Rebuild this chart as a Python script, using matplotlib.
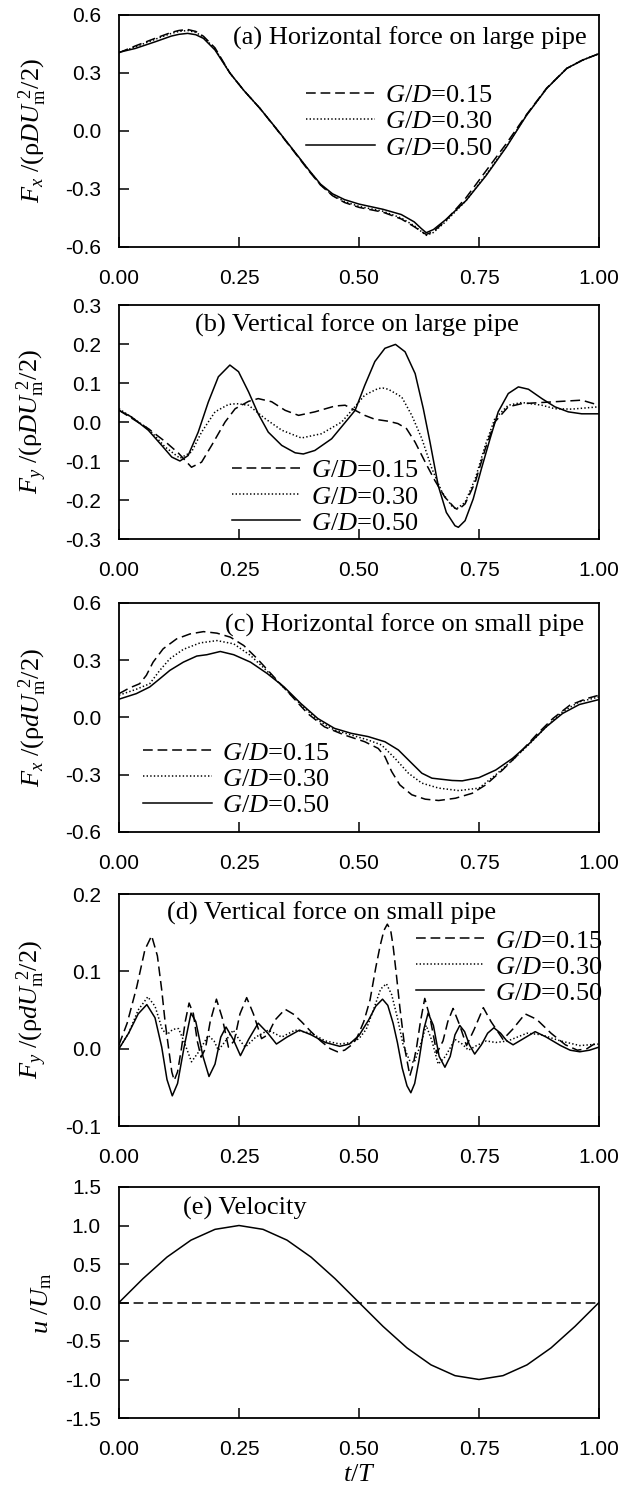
import matplotlib
matplotlib.use("Agg")
import matplotlib.pyplot as plt

plt.rcParams['font.family'] = ['Liberation Sans', 'DejaVu Sans']
plt.rcParams['axes.unicode_minus'] = False
plt.rcParams['mathtext.fontset'] = 'custom'
plt.rcParams['mathtext.rm'] = 'Liberation Serif'
plt.rcParams['mathtext.it'] = 'Liberation Serif:italic'
plt.rcParams['mathtext.bf'] = 'Liberation Serif:bold'
plt.rcParams['lines.scale_dashes'] = False

# ---------------- data ----------------
labels = ['$G/D$=0.15', '$G/D$=0.30', '$G/D$=0.50']

# (a) Horizontal force on large pipe
a_t = [0, 0.034, 0.076, 0.109, 0.125, 0.143, 0.16, 0.176, 0.2, 0.231, 0.26, 0.294, 0.328, 0.361, 0.395, 0.42, 0.445, 0.47, 0.5, 0.55, 0.588, 0.615, 0.63, 0.64, 0.655, 0.68, 0.723, 0.765, 0.807, 0.849, 0.891, 0.933, 0.966, 1.0]
a_v15 = [0.405, 0.44, 0.48, 0.51, 0.52, 0.525, 0.515, 0.49, 0.43, 0.30, 0.21, 0.116, 0.01, -0.095, -0.205, -0.28, -0.335, -0.37, -0.395, -0.42, -0.455, -0.495, -0.52, -0.535, -0.52, -0.465, -0.345, -0.205, -0.065, 0.085, 0.222, 0.324, 0.367, 0.40]
a_v30 = [0.405, 0.435, 0.475, 0.505, 0.515, 0.52, 0.51, 0.485, 0.425, 0.30, 0.21, 0.116, 0.011, -0.093, -0.202, -0.278, -0.332, -0.365, -0.39, -0.415, -0.45, -0.49, -0.52, -0.54, -0.525, -0.47, -0.36, -0.225, -0.08, 0.082, 0.22, 0.324, 0.367, 0.40]
a_v50 = [0.407, 0.427, 0.462, 0.491, 0.50, 0.505, 0.498, 0.479, 0.419, 0.30, 0.21, 0.116, 0.012, -0.092, -0.20, -0.275, -0.325, -0.355, -0.378, -0.405, -0.432, -0.47, -0.505, -0.526, -0.51, -0.46, -0.36, -0.23, -0.083, 0.081, 0.22, 0.324, 0.367, 0.40]

# (b) Vertical force on large pipe
b_t15 = [0, 0.061, 0.096, 0.124, 0.151, 0.172, 0.193, 0.221, 0.242, 0.27, 0.29, 0.318, 0.346, 0.374, 0.408, 0.45, 0.471, 0.492, 0.512, 0.533, 0.561, 0.581, 0.599, 0.617, 0.638, 0.658, 0.679, 0.7, 0.707, 0.721, 0.742, 0.763, 0.783, 0.811, 0.839, 0.881, 0.922, 0.964, 1.0]
b_v15 = [0.03, -0.017, -0.05, -0.08, -0.116, -0.103, -0.06, 0.0, 0.034, 0.053, 0.06, 0.052, 0.03, 0.017, 0.026, 0.041, 0.043, 0.03, 0.017, 0.007, 0.002, -0.004, -0.017, -0.052, -0.103, -0.15, -0.193, -0.221, -0.225, -0.21, -0.155, -0.069, 0.0, 0.039, 0.047, 0.05, 0.053, 0.056, 0.043]
b_t30 = [0, 0.061, 0.096, 0.127, 0.151, 0.172, 0.2, 0.228, 0.245, 0.27, 0.304, 0.339, 0.38, 0.422, 0.464, 0.492, 0.512, 0.54, 0.55, 0.561, 0.589, 0.61, 0.631, 0.652, 0.673, 0.693, 0.703, 0.721, 0.742, 0.763, 0.783, 0.811, 0.839, 0.881, 0.908, 0.943, 1.0]
b_v30 = [0.034, -0.017, -0.064, -0.093, -0.077, -0.026, 0.026, 0.045, 0.047, 0.043, 0.009, -0.021, -0.041, -0.03, 0.0, 0.04, 0.069, 0.086, 0.087, 0.084, 0.064, 0.017, -0.043, -0.12, -0.18, -0.215, -0.223, -0.206, -0.146, -0.06, 0.009, 0.043, 0.05, 0.043, 0.034, 0.033, 0.039]
b_t50 = [0, 0.026, 0.061, 0.089, 0.11, 0.127, 0.144, 0.165, 0.186, 0.207, 0.231, 0.249, 0.27, 0.29, 0.311, 0.339, 0.367, 0.384, 0.408, 0.443, 0.478, 0.492, 0.512, 0.533, 0.554, 0.576, 0.596, 0.617, 0.634, 0.648, 0.665, 0.682, 0.7, 0.707, 0.721, 0.738, 0.755, 0.773, 0.79, 0.811, 0.832, 0.853, 0.881, 0.908, 0.936, 0.964, 1.0]
b_v50 = [0.030, 0.013, -0.021, -0.06, -0.09, -0.10, -0.086, -0.026, 0.051, 0.116, 0.146, 0.129, 0.077, 0.021, -0.026, -0.06, -0.079, -0.082, -0.073, -0.043, 0.009, 0.03, 0.094, 0.155, 0.189, 0.199, 0.18, 0.124, 0.034, -0.052, -0.163, -0.232, -0.266, -0.27, -0.253, -0.197, -0.12, -0.043, 0.026, 0.073, 0.09, 0.084, 0.06, 0.039, 0.026, 0.021, 0.021]

# (c) Horizontal force on small pipe
c_t15 = [0, 0.022, 0.043, 0.057, 0.071, 0.092, 0.12, 0.148, 0.176, 0.204, 0.232, 0.26, 0.288, 0.323, 0.358, 0.393, 0.428, 0.47, 0.512, 0.54, 0.554, 0.568, 0.585, 0.61, 0.638, 0.666, 0.701, 0.736, 0.764, 0.799, 0.834, 0.869, 0.904, 0.939, 0.974, 1.0]
c_v15 = [0.125, 0.155, 0.177, 0.221, 0.29, 0.36, 0.412, 0.438, 0.45, 0.442, 0.421, 0.377, 0.308, 0.212, 0.117, 0.021, -0.049, -0.092, -0.127, -0.162, -0.205, -0.283, -0.353, -0.405, -0.428, -0.435, -0.423, -0.397, -0.353, -0.275, -0.188, -0.092, -0.005, 0.064, 0.099, 0.117]
c_t30 = [0, 0.036, 0.064, 0.085, 0.106, 0.134, 0.169, 0.204, 0.239, 0.274, 0.309, 0.344, 0.379, 0.414, 0.449, 0.484, 0.519, 0.547, 0.575, 0.603, 0.631, 0.666, 0.708, 0.75, 0.785, 0.82, 0.855, 0.89, 0.924, 0.959, 1.0]
c_v30 = [0.117, 0.148, 0.177, 0.247, 0.308, 0.357, 0.391, 0.403, 0.386, 0.325, 0.242, 0.155, 0.068, -0.014, -0.066, -0.092, -0.118, -0.144, -0.214, -0.292, -0.344, -0.37, -0.383, -0.37, -0.30, -0.223, -0.139, -0.049, 0.03, 0.082, 0.108]
c_t50 = [0, 0.036, 0.064, 0.085, 0.106, 0.134, 0.162, 0.183, 0.211, 0.239, 0.274, 0.309, 0.344, 0.379, 0.414, 0.449, 0.484, 0.519, 0.554, 0.582, 0.61, 0.631, 0.652, 0.694, 0.715, 0.75, 0.785, 0.82, 0.855, 0.89, 0.924, 0.959, 1.0]
c_v50 = [0.096, 0.125, 0.16, 0.203, 0.247, 0.29, 0.322, 0.329, 0.346, 0.329, 0.29, 0.23, 0.16, 0.073, -0.005, -0.057, -0.083, -0.10, -0.127, -0.17, -0.24, -0.292, -0.318, -0.33, -0.332, -0.315, -0.275, -0.214, -0.136, -0.049, 0.021, 0.068, 0.094]

# (d) Vertical force on small pipe
d_t15 = [0, 0.017, 0.037, 0.054, 0.068, 0.08, 0.089, 0.096, 0.103, 0.11, 0.115, 0.122, 0.13, 0.138, 0.146, 0.155, 0.163, 0.171, 0.18, 0.19, 0.203, 0.215, 0.228, 0.24, 0.252, 0.266, 0.28, 0.297, 0.31, 0.325, 0.346, 0.365, 0.38, 0.40, 0.42, 0.44, 0.455, 0.47, 0.485, 0.495, 0.51, 0.523, 0.535, 0.544, 0.552, 0.559, 0.566, 0.571, 0.578, 0.585, 0.596, 0.606, 0.613, 0.62, 0.628, 0.637, 0.648, 0.662, 0.675, 0.685, 0.696, 0.71, 0.724, 0.74, 0.759, 0.775, 0.80, 0.82, 0.846, 0.87, 0.9, 0.93, 0.955, 0.975, 1.0]
d_v15 = [0.005, 0.033, 0.08, 0.128, 0.146, 0.12, 0.076, 0.035, 0.002, -0.03, -0.041, -0.03, 0.0, 0.035, 0.059, 0.045, 0.01, -0.011, 0.0, 0.035, 0.064, 0.04, 0.002, 0.01, 0.045, 0.066, 0.045, 0.013, 0.018, 0.037, 0.051, 0.044, 0.035, 0.022, 0.01, 0.0, -0.004, -0.002, 0.005, 0.013, 0.035, 0.063, 0.105, 0.133, 0.153, 0.161, 0.153, 0.133, 0.095, 0.054, -0.002, -0.035, -0.02, 0.002, 0.035, 0.065, 0.04, -0.006, 0.01, 0.035, 0.052, 0.03, 0.004, 0.025, 0.053, 0.035, 0.012, 0.025, 0.045, 0.038, 0.02, 0.005, -0.002, 0.0, 0.01]
d_t30 = [0, 0.02, 0.04, 0.06, 0.075, 0.09, 0.1, 0.112, 0.124, 0.135, 0.151, 0.165, 0.186, 0.198, 0.207, 0.222, 0.238, 0.25, 0.263, 0.285, 0.311, 0.339, 0.367, 0.40, 0.43, 0.46, 0.485, 0.5, 0.515, 0.53, 0.545, 0.557, 0.568, 0.58, 0.592, 0.605, 0.615, 0.628, 0.64, 0.652, 0.665, 0.68, 0.7, 0.715, 0.728, 0.745, 0.765, 0.785, 0.81, 0.85, 0.88, 0.92, 0.96, 1.0]
d_v30 = [0.0, 0.02, 0.05, 0.067, 0.055, 0.025, 0.018, 0.025, 0.026, 0.01, -0.017, -0.005, 0.017, 0.01, -0.002, 0.01, 0.024, 0.012, 0.002, 0.015, 0.024, 0.015, 0.024, 0.02, 0.01, 0.006, 0.008, 0.013, 0.025, 0.05, 0.077, 0.084, 0.07, 0.04, 0.005, -0.015, -0.018, 0.005, 0.03, 0.01, -0.02, -0.01, 0.012, 0.006, -0.002, 0.004, 0.01, 0.008, 0.01, 0.02, 0.018, 0.01, 0.004, 0.006]
d_t50 = [0, 0.02, 0.04, 0.058, 0.075, 0.089, 0.10, 0.111, 0.122, 0.135, 0.15, 0.16, 0.175, 0.1875, 0.2, 0.212, 0.223, 0.238, 0.253, 0.27, 0.29, 0.31, 0.328, 0.35, 0.376, 0.40, 0.43, 0.46, 0.48, 0.50, 0.52, 0.535, 0.549, 0.56, 0.571, 0.58, 0.59, 0.60, 0.608, 0.616, 0.625, 0.635, 0.644, 0.655, 0.667, 0.679, 0.69, 0.70, 0.71, 0.72, 0.73, 0.741, 0.755, 0.768, 0.781, 0.795, 0.808, 0.821, 0.84, 0.867, 0.89, 0.92, 0.94, 0.96, 0.98, 1.0]
d_v50 = [0.0, 0.02, 0.045, 0.057, 0.04, 0.002, -0.04, -0.061, -0.045, 0.0, 0.046, 0.035, -0.01, -0.036, -0.02, 0.015, 0.028, 0.012, -0.009, 0.012, 0.033, 0.02, 0.006, 0.015, 0.024, 0.018, 0.008, 0.003, 0.006, 0.017, 0.037, 0.055, 0.064, 0.056, 0.033, 0.008, -0.025, -0.048, -0.057, -0.045, -0.015, 0.025, 0.046, 0.03, -0.01, -0.024, -0.01, 0.018, 0.03, 0.022, 0.005, -0.007, 0.005, 0.02, 0.027, 0.02, 0.01, 0.005, 0.012, 0.022, 0.015, 0.004, -0.002, -0.004, -0.002, 0.002]

# (e) Velocity
e_t = [0, 0.05, 0.1, 0.15, 0.2, 0.25, 0.3, 0.35, 0.4, 0.45, 0.5, 0.55, 0.6, 0.65, 0.7, 0.75, 0.8, 0.85, 0.9, 0.95, 1.0]
e_u = [0.0, 0.31, 0.59, 0.81, 0.95, 1.0, 0.95, 0.81, 0.59, 0.31, 0.0, -0.31, -0.59, -0.81, -0.95, -1.0, -0.95, -0.81, -0.59, -0.31, 0.0]
e_zero_t = [0, 1]
e_zero_u = [0, 0]

x_ticks = [0, 0.25, 0.5, 0.75, 1.0]
x_ticklabels = ['0.00', '0.25', '0.50', '0.75', '1.00']

# ---------------- styles ----------------
LW = 1.1
styles = [dict(color='black', lw=LW, linestyle=(0, (7, 3.5))),
          dict(color='black', lw=LW, linestyle=(0, (1.0, 1.6))),
          dict(color='black', lw=LW, linestyle='-')]
SERIF = ['Liberation Serif', 'DejaVu Serif']
TXT = 19
TICK = 15

fig = plt.figure(figsize=(6.31, 14.88), dpi=100)
W = 631.0
H = 1488.0
L = 119 / W
AW = 480 / W
rows = [(15, 247), (305, 539), (603, 832), (894, 1126), (1187, 1418)]
axes = []
for top, bot in rows:
    axes.append(fig.add_axes([L, 1 - bot / H, AW, (bot - top) / H]))


def style_ax(ax, ylim, yticks, yfmt):
    ax.set_xlim(0, 1)
    ax.set_ylim(*ylim)
    ax.set_xticks(x_ticks)
    ax.set_xticklabels(x_ticklabels)
    ax.set_yticks(yticks)
    ax.set_yticklabels([yfmt % v for v in yticks])
    ax.tick_params(axis='both', direction='in', length=7, width=1.1,
                   labelsize=TICK, top=False, right=False)
    ax.tick_params(axis='y', pad=13)
    ax.tick_params(axis='x', pad=16)
    for s in ax.spines.values():
        s.set_linewidth(1.3)


panels = [
    (axes[0], [(a_t, a_v15), (a_t, a_v30), (a_t, a_v50)], (-0.6, 0.6), [-0.6, -0.3, 0.0, 0.3, 0.6],
     r'$F_x\ /(\mathrm{\rho}DU_\mathrm{m}^{\ 2}/2)$', '(a) Horizontal force on large pipe', (0.975, 0.90, 'right'),
     (0.39, 0.703)),
    (axes[1], [(b_t15, b_v15), (b_t30, b_v30), (b_t50, b_v50)], (-0.3, 0.3), [-0.3, -0.2, -0.1, 0.0, 0.1, 0.2, 0.3],
     r'$F_y\ /(\mathrm{\rho}DU_\mathrm{m}^{\ 2}/2)$', '(b) Vertical force on large pipe', (0.496, 0.915, 'center'),
     (0.235, 0.342)),
    (axes[2], [(c_t15, c_v15), (c_t30, c_v30), (c_t50, c_v50)], (-0.6, 0.6), [-0.6, -0.3, 0.0, 0.3, 0.6],
     r'$F_x\ /(\mathrm{\rho}dU_\mathrm{m}^{\ 2}/2)$', '(c) Horizontal force on small pipe', (0.97, 0.904, 'right'),
     (0.05, 0.397)),
    (axes[3], [(d_t15, d_v15), (d_t30, d_v30), (d_t50, d_v50)], (-0.1, 0.2), [-0.1, 0.0, 0.1, 0.2],
     r'$F_y\ /(\mathrm{\rho}dU_\mathrm{m}^{\ 2}/2)$', '(d) Vertical force on small pipe', (0.443, 0.918, 'center'),
     (0.618, 0.849)),
]

for ax, series, ylim, yticks, ylabel, title, tpos, lpos in panels:
    for (t, v), st, lab in zip(series, styles, labels):
        ax.plot(t, v, label=lab, **st)
    style_ax(ax, ylim, yticks, '%.1f')
    ax.set_ylabel(ylabel, fontsize=TXT)
    ax.yaxis.set_label_coords(-0.145, 0.5)
    ax.text(tpos[0], tpos[1], title, transform=ax.transAxes, ha=tpos[2], va='center',
            fontsize=TXT, family=SERIF)
    leg = ax.legend(loc='upper left', bbox_to_anchor=lpos, frameon=False,
                    prop={'family': SERIF, 'size': TXT},
                    borderpad=0, borderaxespad=0, handlelength=2.6, handletextpad=0.4,
                    labelspacing=0.1)

ax = axes[4]
ax.plot(e_t, e_u, color='black', lw=LW)
ax.plot(e_zero_t, e_zero_u, color='black', lw=LW, linestyle=(0, (7, 3.5)))
style_ax(ax, (-1.5, 1.5), [-1.5, -1.0, -0.5, 0.0, 0.5, 1.0, 1.5], '%.1f')
ax.set_ylabel(r'$u\ /U_\mathrm{m}$', fontsize=TXT)
ax.yaxis.set_label_coords(-0.135, 0.5)
ax.set_xlabel(r'$t/T$', fontsize=TXT, labelpad=2)
ax.text(0.134, 0.909, '(e) Velocity', transform=ax.transAxes, ha='left', va='center',
        fontsize=TXT, family=SERIF)

fig.savefig('out.png', dpi=100)
